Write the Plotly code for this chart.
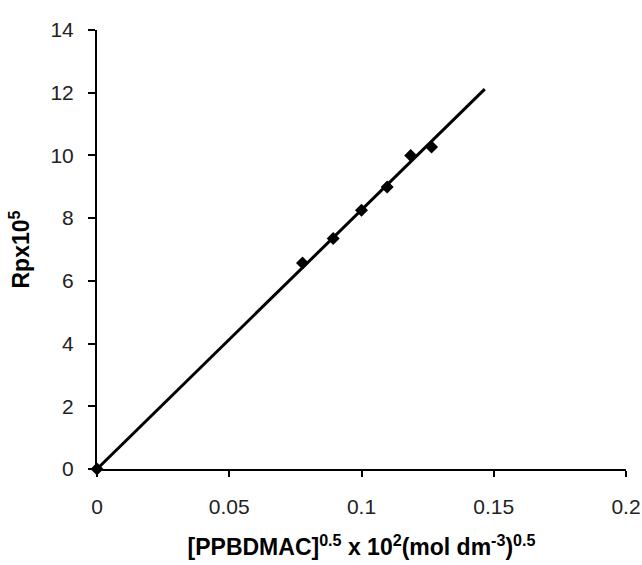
import numpy as np
import plotly.graph_objects as go

# Data
conc = [0.0, 0.0777, 0.0893, 0.1000, 0.1097, 0.1186, 0.1265]
rp = [0.0, 6.57, 7.35, 8.25, 8.99, 10.00, 10.27]
trend_x_end = 0.1466

x_ticks = [0, 0.05, 0.1, 0.15, 0.2]
x_tick_text = ["0", "0.05", "0.1", "0.15", "0.2"]
y_ticks = [0, 2, 4, 6, 8, 10, 12, 14]

# Linear fit through origin
xa = np.array(conc)
ya = np.array(rp)
slope = float((xa * ya).sum() / (xa * xa).sum())
trend_x = [0.0, trend_x_end]
trend_y = [slope * v for v in trend_x]

fig = go.Figure()
fig.add_trace(go.Scatter(x=trend_x, y=trend_y, mode="lines",
                         line=dict(color="black", width=3), cliponaxis=False,
                         showlegend=False))
fig.add_trace(go.Scatter(x=conc, y=rp, mode="markers",
                         marker=dict(symbol="diamond", size=10, color="black"),
                         cliponaxis=False, showlegend=False))

font_family = "Arial, Liberation Sans, sans-serif"
fig.update_layout(
    width=642, height=565,
    margin=dict(l=97, r=16, t=30, b=96),
    paper_bgcolor="white", plot_bgcolor="white",
    font=dict(family=font_family, color="black", size=20),
    xaxis=dict(range=[0, 0.2], tickvals=x_ticks, ticktext=x_tick_text,
               automargin=False,
               showgrid=False, zeroline=False, showline=True,
               linecolor="black", linewidth=2, ticks="outside", ticklen=6,
               tickwidth=2, tickcolor="black", ticklabelstandoff=12,
               tickfont=dict(size=21, color="#222"),
               title=dict(text="<b>[PPBDMAC]<sup>0.5</sup> x 10<sup>2</sup>(mol dm<sup>-3</sup>)<sup>0.5</sup></b>",
                          font=dict(size=23), standoff=22)),
    yaxis=dict(range=[0, 14], tickvals=y_ticks, automargin=False,
               showgrid=False, zeroline=False, showline=True,
               linecolor="black", linewidth=2, ticks="outside", ticklen=7,
               tickwidth=2, tickcolor="black", ticklabelstandoff=10,
               tickfont=dict(size=21, color="#222"),
               title=dict(text="<b>Rpx10<sup>5</sup></b>", font=dict(size=23),
                          standoff=14)),
)

fig.write_html("out.html")
